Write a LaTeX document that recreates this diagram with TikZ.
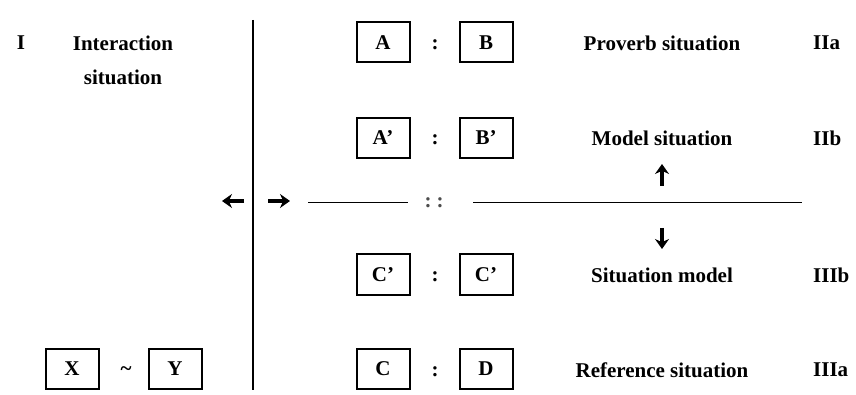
\documentclass[tikz,border=0pt]{standalone}
\usepackage{fontspec}
\setmainfont{Liberation Serif}
\usetikzlibrary{arrows.meta}
\begin{document}
\begin{tikzpicture}[x=1pt,y=-1pt,
  every node/.style={font=\fontsize{21}{25}\selectfont\bfseries, inner sep=0pt},
  termbox/.style={draw, line width=2pt, minimum width=53pt, minimum height=40pt},
  rowlabel/.style={anchor=west},
  bigarrow/.style={line width=3.5pt, -{Stealth[length=10pt,width=14pt]}},
  rule/.style={line width=1.8pt}]
\useasboundingbox (0,0) rectangle (856,395);
% left part
\node (I) at (21,43) {I};
\node[align=center] (inter) at (123,60) {Interaction\\[9pt]situation};
\node[termbox] (X) at (72,369) {X};
\node (tilde) at (126,371) {\textasciitilde};
\node[termbox] (Y) at (175,369) {Y};
% vertical separator
\coordinate (vtop) at (253,20);
\coordinate (vbot) at (253,390);
\draw[line width=2.6pt] (vtop) -- (vbot);
% side arrows
\coordinate (la1) at (244,201);
\coordinate (la2) at (222,201);
\coordinate (ra1) at (268,201);
\coordinate (ra2) at (290,201);
\draw[bigarrow] (la1) -- (la2);
\draw[bigarrow] (ra1) -- (ra2);
% rows
\node[termbox] (A) at (383,42.5) {A};
\node (c1) at (435,45) {:};
\node[termbox] (B) at (486,42.5) {B};
\node (t1) at (662,43) {Proverb situation};
\node[rowlabel] (r1) at (813,43) {IIa};

\node[termbox] (A2) at (383,138) {A'};
\node (c2) at (435,140) {:};
\node[termbox] (B2) at (486,138) {B'};
\node (t2) at (662,138) {Model situation};
\node[rowlabel] (r2) at (813,138) {IIb};

\node[termbox] (C2) at (383,274.5) {C'};
\node (c3) at (435,277) {:};
\node[termbox] (D2) at (486,274.5) {C'};
\node (t3) at (662,275) {Situation model};
\node[rowlabel] (r3) at (813,275) {IIIb};

\node[termbox] (C) at (383,369) {C};
\node (c4) at (435,371.5) {:};
\node[termbox] (D) at (486,369) {D};
\node (t4) at (662,370) {Reference situation};
\node[rowlabel] (r4) at (813,370) {IIIa};

% horizontal divider
\coordinate (h1a) at (308,202.5);
\coordinate (h1b) at (408,202.5);
\node[text=black!70] (dd) at (434,203) {:\hspace{5pt}:};
\coordinate (h2a) at (473,202.5);
\coordinate (h2b) at (802,202.5);
\draw[rule] (h1a) -- (h1b);
\draw[rule] (h2a) -- (h2b);
% vertical arrows
\coordinate (ua1) at (662,186);
\coordinate (ua2) at (662,164);
\coordinate (da1) at (662,228);
\coordinate (da2) at (662,249);
\draw[bigarrow] (ua1) -- (ua2);
\draw[bigarrow] (da1) -- (da2);
\end{tikzpicture}
\end{document}
